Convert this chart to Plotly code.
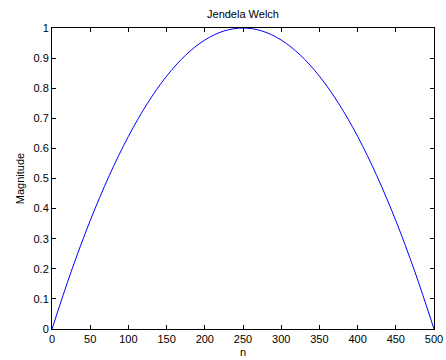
import plotly.graph_objects as go

# Welch window samples, read at every 25 samples of n
n_vals = [0, 25, 50, 75, 100, 125, 150, 175, 200, 225, 250,
          275, 300, 325, 350, 375, 400, 425, 450, 475, 500]
magnitude = [0.0, 0.19, 0.36, 0.51, 0.64, 0.75, 0.84, 0.91, 0.96, 0.99, 1.0,
             0.99, 0.96, 0.91, 0.84, 0.75, 0.64, 0.51, 0.36, 0.19, 0.0]

x_ticks = [0, 50, 100, 150, 200, 250, 300, 350, 400, 450, 500]
y_ticks = [0, 0.1, 0.2, 0.3, 0.4, 0.5, 0.6, 0.7, 0.8, 0.9, 1]
y_tick_text = ["0", "0.1", "0.2", "0.3", "0.4", "0.5", "0.6", "0.7", "0.8", "0.9", "1"]

font = dict(family="Liberation Sans, Arial, sans-serif", size=11, color="#000000")

fig = go.Figure(
    go.Scatter(
        x=n_vals, y=magnitude, mode="lines",
        line=dict(color="#0000ff", width=1, shape="spline", smoothing=1.0),
        hoverinfo="skip",
    )
)

axis_common = dict(
    showline=True, linecolor="#000000", linewidth=1, mirror="ticks",
    ticks="inside", ticklen=4, tickcolor="#000000", tickwidth=1,
    showgrid=False, zeroline=False, tickfont=font, automargin=False,
)

fig.update_layout(
    width=446, height=360,
    margin=dict(l=52, r=12, t=28, b=31),
    paper_bgcolor="#ffffff", plot_bgcolor="#ffffff",
    showlegend=False,
    font=font,
    title=dict(text="Jendela Welch", x=0.5, xanchor="center",
               y=1 - 14 / 360, yanchor="middle", font=font,
               xref="paper", automargin=False),
    xaxis=dict(range=[0, 500], tickvals=x_ticks,
               title=dict(text="n", font=font, standoff=4), **axis_common),
    yaxis=dict(range=[0, 1], tickvals=y_ticks, ticktext=y_tick_text,
               title=dict(text="Magnitude", font=font, standoff=6), **axis_common),
)

fig.write_html("out.html")
